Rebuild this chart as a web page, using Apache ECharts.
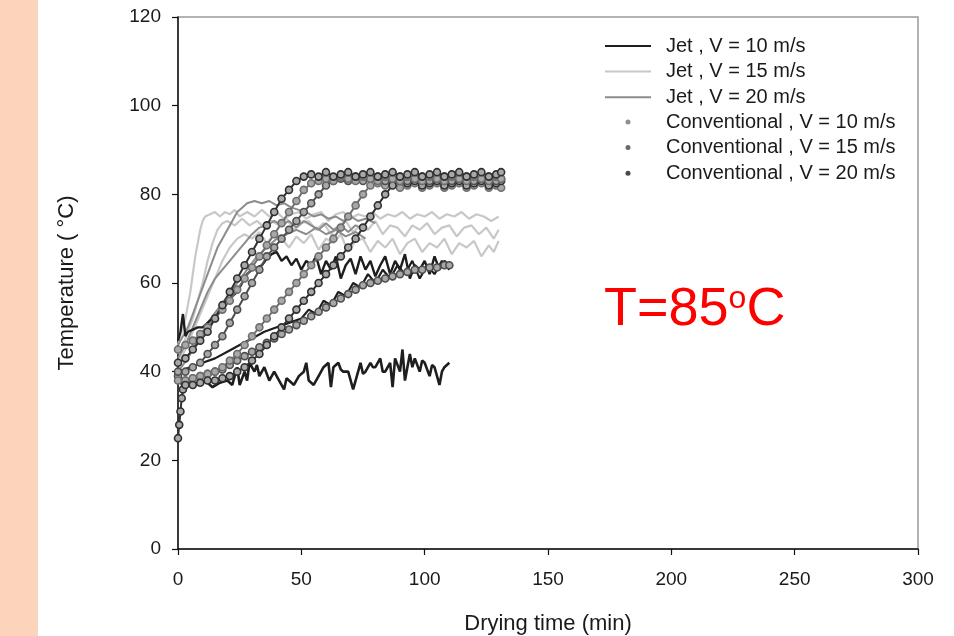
<!DOCTYPE html>
<html>
<head>
<meta charset="utf-8">
<script src="https://cdn.jsdelivr.net/npm/echarts@6/dist/echarts.min.js"></script>
<style>
html,body{margin:0;padding:0;background:#fff;}
#chart{width:954px;height:636px;}
</style>
</head>
<body>
<div id="chart"></div>
<script>
// ---- axis ticks ----
const xTickValues = [0, 50, 100, 150, 200, 250, 300];
const yTickValues = [0, 20, 40, 60, 80, 100, 120];

// ---- legend names ----
const legendJet = ['Jet , V = 10 m/s', 'Jet , V = 15 m/s', 'Jet , V = 20 m/s'];
const legendConv = ['Conventional , V = 10 m/s', 'Conventional , V = 15 m/s', 'Conventional , V = 20 m/s'];

// ---- Jet, V = 10 m/s  [time (min), temperature (°C)] ----
const jet10_low = [[0,38],[2,37],[5,38],[8,37],[11,38],[14,36.5],[17,37.5],[20,38],[22,37],[24,41],[25,37],[27,40],[28,38],[29,42],[31,40],[32,41.5],[33,39],[35,41],[36,39.5],[37,38],[39,40],[41,38],[43,36],[44,38.5],[45,38],[47,37],[49,39],[51,40],[52,42],[53,38],[55,37],[57,39],[59,41],[61,42],[62,36.5],[63,41],[65,42],[66,40.5],[67,40],[69,40],[71,36],[72,38],[74,42],[75,39.5],[76,40],[78,42],[79,41],[80,41],[82,43],[83,40],[84,40],[86,42],[87,36.5],[88,43],[90,40],[91,45],[92,38],[94,44],[95,41],[96,43],[98,40],[99,42.5],[100,42],[102,39],[103,41.5],[104,41],[106,37],[107,40],[108,41],[110,42]];
const jet10_upper = [[0,47],[1,49],[2,53],[3,48],[4,49],[6,49.5],[8,50],[10,50],[12,51],[14,52],[16,53],[18,55],[20,56],[22,57],[24,58],[26,60],[28,62],[30,63],[32,63.5],[34,64],[36,65.5],[38,66.5],[40,67],[42,65],[44,66],[46,64],[48,65.5],[50,63],[52,65],[54,64],[56,66],[58,62],[60,65],[62,63],[64,66],[66,61],[68,64],[70,65.5],[72,62],[74,66],[76,63],[78,65],[80,61.5],[82,64],[84,66],[86,62],[88,65],[90,63],[92,66.5],[94,61],[96,64],[98,63],[100,65],[102,62],[104,66],[106,63],[108,65],[110,64]];
const jet10_mid = [[0,40],[5,41],[10,42],[15,43],[20,44.5],[25,46],[30,47.5],[35,49],[40,50],[45,51],[50,52],[53,54],[56,53],[59,56],[62,55],[65,58],[68,57],[71,60],[74,59],[77,62],[80,60],[83,63],[86,61],[89,64],[92,62],[95,65],[98,61],[101,64],[104,62],[107,65],[110,63]];

// ---- Jet, V = 15 m/s ----
const jet15_a = [[0,46],[1,48],[2,50],[3,52],[4,55],[5,58],[6,62],[7,66],[8,69],[9,72],[10,74],[11,75],[13,75.5],[15,76],[17,75],[19,76],[21,75.5],[23,76.5],[25,75],[28,76],[31,75],[34,76.5],[37,75],[40,76],[43,74.5],[46,75.5],[49,76],[52,74.5],[55,75.5],[58,76],[61,74],[64,75.5],[67,76],[70,74.5],[73,75.5],[76,75],[79,76],[82,74.5],[85,75.5],[88,75],[91,76],[94,74.5],[97,75.5],[100,75],[103,76],[106,74.5],[109,75.5],[112,75],[115,76],[118,74.5],[121,75.5],[124,75],[127,74],[130,75]];
const jet15_b = [[0,44],[2,46],[4,49],[6,52],[8,56],[10,60],[12,65],[14,69],[16,72],[18,73.5],[20,74],[23,73],[26,74.5],[29,73],[32,74],[35,72.5],[38,74],[41,73],[44,74.5],[47,72],[50,73.5],[53,74],[56,72],[59,73.5],[62,71],[65,73],[68,74],[71,71.5],[74,73],[77,72],[80,74],[83,71],[86,73],[89,72.5],[92,70.5],[95,73],[98,72],[101,73.5],[104,71],[107,72.5],[110,73],[113,70.5],[116,72.5],[119,73],[122,71],[125,72.5],[128,70],[130,72]];
const jet15_c = [[0,42],[3,45],[6,49],[9,53],[12,57],[15,61],[18,65],[21,68],[24,70],[27,71],[30,70],[33,71.5],[36,69],[39,71],[42,70],[45,68],[48,70.5],[51,69],[54,71],[57,67.5],[60,70],[63,69],[66,71],[69,67],[72,69.5],[75,70],[78,67],[81,69.5],[84,68],[87,70],[90,66.5],[93,69],[96,70],[99,67],[102,69],[105,68],[108,70],[111,66.5],[114,69],[117,68],[120,69.5],[123,66],[126,68.5],[128,67],[130,69.5]];

// ---- Jet, V = 20 m/s ----
const jet20_a = [[0,46],[2,48],[4,50],[6,53],[8,56],[10,59],[12,62],[14,65],[16,68],[18,70],[20,72],[22,74],[24,76],[26,77],[28,78],[31,78.5],[34,78],[37,78.5],[40,77.5],[43,78],[46,77],[49,76.5],[52,76],[55,75],[58,75.5],[61,74.5],[64,75],[67,74],[70,75],[73,74],[76,74.5],[80,73.5]];
const jet20_b = [[0,43],[3,46],[6,50],[9,54],[12,58],[15,61],[18,63],[21,65],[24,67],[27,69],[30,71],[33,72.5],[36,73],[39,74],[42,73],[45,74],[48,72.5],[51,74],[54,73],[57,72],[60,73.5],[63,72],[66,73],[69,71.5],[72,73],[76,72]];
const jet20_c = [[0,40],[4,43],[8,47],[12,51],[16,54],[20,57],[24,60],[28,63],[32,66],[36,68],[40,70],[44,71],[48,72],[52,71],[56,72.5],[60,71],[64,72],[68,70.5],[72,71.5],[76,70]];

// ---- Conventional ----
const conv20_a = [[0,42],[3,43],[6,45],[9,47],[12,49],[15,52],[18,55],[21,58],[24,61],[27,64],[30,67],[33,70],[36,73],[39,76],[42,79],[45,81],[48,83],[51,84],[54,84.5],[57,84],[60,85],[63,84],[66,84.5],[69,85],[72,84],[75,84.5],[78,85],[81,84],[84,84.5],[87,85],[90,84],[93,84.5],[96,85],[99,84],[102,84.5],[105,85],[108,84],[111,84.5],[114,85],[117,84],[120,84.5],[123,85],[126,84],[129,84.5],[131,85]];
const conv15_a = [[0,40],[3,40],[6,41],[9,42],[12,44],[15,46],[18,48],[21,51],[24,54],[27,57],[30,60],[33,63],[36,66],[39,68],[42,70],[45,72],[48,74],[51,76],[54,78],[57,80],[60,82],[63,83],[66,83.5],[69,83],[72,84],[75,83],[78,83.5],[81,84],[84,83],[87,83.5],[90,84],[93,83],[96,83.5],[99,84],[102,83],[105,83.5],[108,84],[111,83],[114,83.5],[117,84],[120,83],[123,83.5],[126,84],[129,83],[131,83.5]];
const conv10_a = [[0,38],[3,38],[6,38.5],[9,39],[12,39.5],[15,40],[18,41],[21,42.5],[24,44],[27,46],[30,48],[33,50],[36,52],[39,54],[42,56],[45,58],[48,60],[51,62],[54,64],[57,66],[60,68],[63,70],[66,72.5],[69,75],[72,77.5],[75,80],[78,82],[81,82.5],[84,82],[87,82.5],[90,81.5],[93,82],[96,82.5],[99,81.5],[102,82],[105,82.5],[108,81.5],[111,82],[114,82.5],[117,81.5],[120,82],[123,82.5],[126,81.5],[129,82],[131,81.5]];
const conv20_b = [[0,25],[0.5,28],[1,31],[1.5,34],[2,36],[3,37],[6,37],[9,37.5],[12,38],[15,38],[18,38.5],[21,39],[24,40],[27,41],[30,42.5],[33,44],[36,46],[39,48],[42,50],[45,52],[48,54],[51,56],[54,58],[57,60],[60,62],[63,64],[66,66],[69,68],[72,70],[75,72.5],[78,75],[81,77.5],[84,80],[87,82],[90,83],[93,82.5],[96,83],[99,82],[102,82.5],[105,83],[108,82],[111,82.5],[114,83],[117,82],[120,82.5],[123,83],[126,82],[129,82.5],[131,83]];
const conv15_b = [[0,39],[3,38],[6,38.5],[9,39],[12,39.5],[15,40],[18,40.5],[21,41.5],[24,42.5],[27,43.5],[30,44.5],[33,45.5],[36,46.5],[39,47.5],[42,48.5],[45,49.5],[48,50.5],[51,51.5],[54,52.5],[57,53.5],[60,54.5],[63,55.5],[66,56.5],[69,57.5],[72,58.5],[75,59.5],[78,60],[81,60.5],[84,61],[87,61.5],[90,62],[93,62.5],[96,63],[99,63],[102,63.5],[105,63.5],[108,64],[110,64]];
const conv10_b = [[0,45],[3,46],[6,47],[9,48.5],[12,50],[15,52],[18,54],[21,56],[24,58.5],[27,61],[30,63.5],[33,66],[36,68.5],[39,71],[42,73.5],[45,76],[48,78.5],[51,81],[54,82.5],[57,83],[60,83.5],[63,83],[66,84],[69,83.5],[72,83],[75,84],[78,83.5],[81,83],[84,84],[87,83.5],[90,83],[93,84],[96,83.5],[99,83],[102,84],[105,83.5],[108,83],[111,84],[114,83.5],[117,83],[120,84],[123,83.5],[126,83],[129,84],[131,83.5]];

const C_J10 = '#1e1e1e', C_J15 = '#c8c8c8', C_J20 = '#8c8c8c';
const C_C10 = '#6e6e6e', C_C15 = '#4e4e4e', C_C20 = '#303030';
const C_FILL = '#a8a8a8';

function jetSeries(name, data, color, width) {
  return { type: 'line', name: name, data: data, color: color, showSymbol: false, symbol: 'none',
    lineStyle: { color: color, width: width }, z: 2, silent: true };
}
function convSeries(name, data, color) {
  return { type: 'line', name: name, data: data, symbol: 'circle', symbolSize: 7,
    showSymbol: true, showAllSymbol: true,
    itemStyle: { color: C_FILL, borderColor: color, borderWidth: 1.6 },
    lineStyle: { color: color, width: 2 }, z: 3, silent: true };
}

const series = [
  jetSeries(legendJet[1], jet15_a, C_J15, 2.2),
  jetSeries(legendJet[1], jet15_b, C_J15, 2.2),
  jetSeries(legendJet[1], jet15_c, C_J15, 2.2),
  jetSeries(legendJet[2], jet20_a, C_J20, 2),
  jetSeries(legendJet[2], jet20_b, C_J20, 2),
  jetSeries(legendJet[2], jet20_c, C_J20, 2),
  convSeries(legendConv[1], conv15_b, C_C15),
  convSeries(legendConv[0], conv10_a, C_C10),
  convSeries(legendConv[2], conv20_b, C_C20),
  convSeries(legendConv[1], conv15_a, C_C15),
  convSeries(legendConv[0], conv10_b, C_C10),
  convSeries(legendConv[2], conv20_a, C_C20),
  jetSeries(legendJet[0], jet10_mid, C_J10, 2.2),
  jetSeries(legendJet[0], jet10_upper, C_J10, 2.4),
  jetSeries(legendJet[0], jet10_low, C_J10, 2.6)
];

const convLegendColors = ['#909090', '#6a6a6a', '#4a4a4a'];
const FONT = 'Liberation Sans, Arial, sans-serif';
const chart = echarts.init(document.getElementById('chart'), null, { renderer: 'canvas' });
chart.setOption({
  animation: false,
  backgroundColor: '#ffffff',
  grid: { left: 178, right: 36, top: 17, bottom: 87, outerBoundsMode: 'none', containLabel: false,
    show: true, borderColor: '#9a9a9a', borderWidth: 1.5, backgroundColor: 'transparent' },
  legend: [
    { orient: 'vertical', left: 605, top: 36, padding: 0, itemGap: 5.6, itemWidth: 46, itemHeight: 2,
      selectedMode: false,
      data: legendJet.map(n => ({ name: n, icon: 'rect' })),
      textStyle: { fontFamily: FONT, fontSize: 20, color: '#1a1a1a', padding: [0, 0, 0, 10] } },
    { orient: 'vertical', left: 625.5, top: 112, padding: 0, itemGap: 5.6, itemWidth: 5, itemHeight: 5,
      selectedMode: false,
      data: legendConv.map((n, i) => ({ name: n, icon: 'circle',
        itemStyle: { color: convLegendColors[i], borderColor: convLegendColors[i], borderWidth: 0 } })),
      textStyle: { fontFamily: FONT, fontSize: 20, color: '#1a1a1a', padding: [0, 0, 0, 30.5] } }
  ],
  xAxis: {
    type: 'value', min: xTickValues[0], max: xTickValues[xTickValues.length - 1], interval: 50,
    name: 'Drying time (min)', nameLocation: 'middle', nameGap: 64,
    nameTextStyle: { fontFamily: FONT, fontSize: 22, color: '#1a1a1a' },
    axisLine: { show: true, onZero: false, lineStyle: { color: '#111', width: 1.5 } },
    axisTick: { show: true, inside: false, length: 6, lineStyle: { color: '#111', width: 1.2 } },
    axisLabel: { fontFamily: FONT, fontSize: 19, color: '#1a1a1a', margin: 21 },
    splitLine: { show: false }
  },
  yAxis: {
    type: 'value', min: yTickValues[0], max: yTickValues[yTickValues.length - 1], interval: 20,
    name: 'Temperature ( °C)', nameLocation: 'middle', nameGap: 100,
    nameTextStyle: { fontFamily: FONT, fontSize: 22, color: '#1a1a1a' },
    axisLine: { show: true, onZero: false, lineStyle: { color: '#111', width: 1.5 } },
    axisTick: { show: true, inside: false, length: 6, lineStyle: { color: '#111', width: 1.2 } },
    axisLabel: { fontFamily: FONT, fontSize: 19, color: '#1a1a1a', margin: 17 },
    splitLine: { show: false }
  },
  graphic: [
    { type: 'rect', left: 0, top: 0, shape: { width: 38, height: 636 }, style: { fill: '#fcd4bb' }, z: 0 },
    { type: 'text', left: 604, top: 283, z: 10,
      style: { text: '{a|T=85}{b|o}{a|C}', fill: '#ff0000',
        rich: { a: { fontSize: 54, fontFamily: FONT, fill: '#ff0000' },
                b: { fontSize: 32, fontFamily: FONT, fill: '#ff0000', verticalAlign: 'top' } } } }
  ],
  series: series
});
</script>
</body>
</html>
